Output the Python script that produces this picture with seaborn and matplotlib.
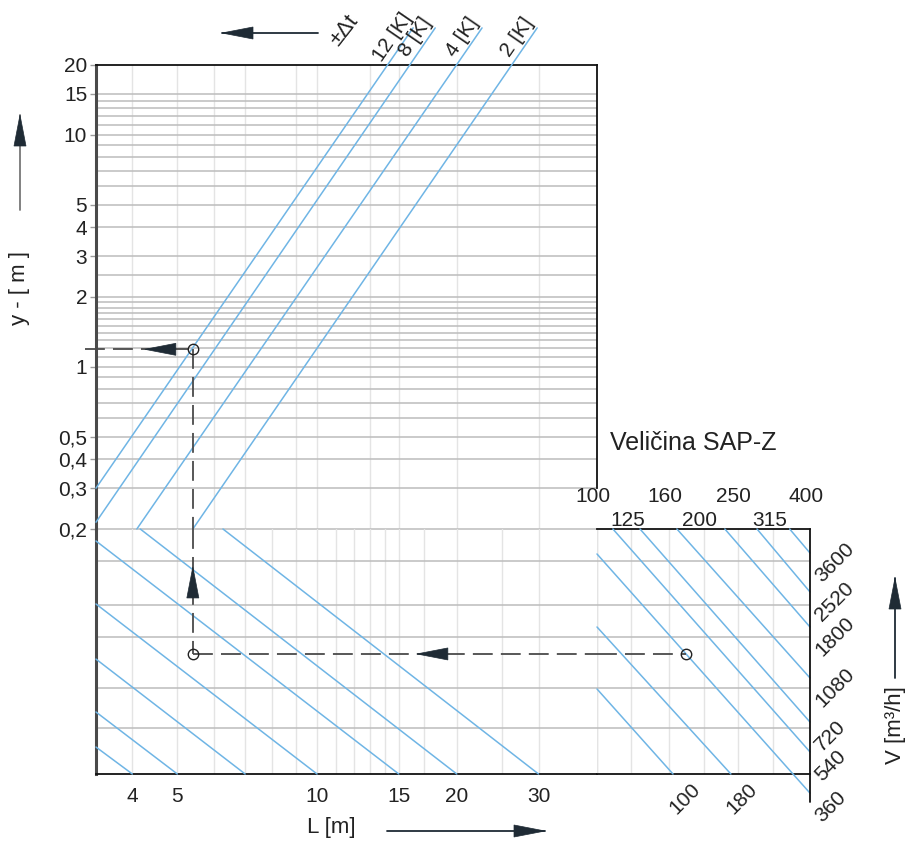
import matplotlib
matplotlib.use("Agg")
import matplotlib.pyplot as plt
from matplotlib.patches import Polygon
from matplotlib.lines import Line2D
from matplotlib.transforms import IdentityTransform
from matplotlib.ticker import FixedLocator, NullLocator
import pandas as pd
import seaborn as sns

# ---------------- data ----------------
# upper nomogram: +-dt lines (L [m] -> y [m])
dt_labels = ["12 [K]", "8 [K]", "4 [K]", "2 [K]"]
dt_L_start = [3.34, 3.34, 4.09, 5.40]
dt_y_start = [0.30, 0.214, 0.20, 0.20]
dt_L_end = [16.1, 17.97, 22.67, 29.8]
dt_y_end = [28.9, 28.9, 28.9, 28.9]

y_ticks = [0.2, 0.3, 0.4, 0.5, 1, 2, 3, 4, 5, 10, 15, 20]
y_tick_labels = ["0,2", "0,3", "0,4", "0,5", "1", "2", "3", "4", "5", "10", "15", "20"]
y_grid = [0.3, 0.4, 0.5, 0.6, 0.7, 0.8, 0.9, 1.0, 1.1, 1.2, 1.3, 1.4, 1.5, 1.6,
          1.7, 1.8, 1.9, 2.0, 2.5, 3, 4, 5, 6, 7, 8, 9, 10, 11, 12, 13, 14, 15]

L_ticks = [4, 5, 10, 15, 20, 30]
L_tick_labels = ["4", "5", "10", "15", "20", "30"]
L_grid_top = [4, 5, 6, 7, 9, 10, 13, 15, 20, 30]
L_grid_bottom = [4, 5, 6, 7, 8, 9, 10, 11, 12, 13, 14, 15, 17, 20, 25, 30]

# lower-left nomogram: L lines (L [m] vs relative scale q)
bl_names = ["l4", "l5", "l7", "l10", "l15", "l20", "l30"]
bl_L_start = [3.34, 3.34, 3.34, 3.34, 3.34, 4.16, 6.27]
bl_q_start = [0.110, 0.253, 0.469, 0.694, 0.951, 1.0, 1.0]
bl_L_end = [4, 5, 7, 10, 15, 20, 30]
bl_q_end = [0, 0, 0, 0, 0, 0, 0]
q_grid = [0.188, 0.351, 0.559, 0.690, 0.869]

# lower-right: SAP-Z sizes and flow lines V [m3/h]
sizes = [100, 125, 160, 200, 250, 315, 400]
size_labels = ["100", "125", "160", "200", "250", "315", "400"]
flow_labels = ["100", "180", "360", "540", "720", "1080", "1800", "2520", "3600"]
br_D_start = [100, 100, 100, 110.9, 132.3, 168.2, 229.8, 283.3, 350.4]
br_q_start = [0.347, 0.600, 0.898, 1, 1, 1, 1, 1, 1]
br_D_end = [164, 239, 400, 400, 400, 400, 400, 400, 400]
br_q_end = [0, 0, -0.078, 0.090, 0.212, 0.392, 0.600, 0.743, 0.902]

# worked example
ex_L, ex_y, ex_q, ex_D = 5.40, 1.19, 0.49, 178

# ---------------- style ----------------
sns.set_theme(style="white")
plt.rcParams["font.family"] = ["Liberation Sans", "DejaVu Sans"]
BLUE = "#6fb5e5"
HGRID = "#bcbcbc"
VGRID = "#e4e4e4"
DARK = "#1f2b35"
DASH = "#4a4a4a"
TXT = "#222222"

W, H = 907, 841
fig = plt.figure(figsize=(W / 100, H / 100), dpi=100)
fig.patch.set_facecolor("white")


def rect(x0, y0, x1, y1):
    return [x0 / W, 1 - y1 / H, (x1 - x0) / W, (y1 - y0) / H]


ax_top = fig.add_axes(rect(96, 65, 597, 529))
ax_bl = fig.add_axes(rect(96, 529, 597, 774))
ax_br = fig.add_axes(rect(597, 529, 810, 774))
for a in (ax_top, ax_bl, ax_br):
    a.set_facecolor("none")
    a.set_xscale("log")
ax_top.set_yscale("log")


def seg_frame(names, x0, y0, x1, y1):
    rows = []
    for n, a, b, c, d in zip(names, x0, y0, x1, y1):
        rows.append(dict(line=n, x=a, y=b))
        rows.append(dict(line=n, x=c, y=d))
    return pd.DataFrame(rows)


# grids
for v in y_grid:
    ax_top.axhline(v, color=HGRID, lw=1.1, zorder=1)
for v in L_grid_top:
    ax_top.axvline(v, color=VGRID, lw=1.0, zorder=0.5)
for v in q_grid:
    ax_bl.axhline(v, color=HGRID, lw=1.1, zorder=1)
    ax_br.axhline(v, color=HGRID, lw=1.1, zorder=1)
for v in L_grid_bottom:
    ax_bl.axvline(v, color=VGRID, lw=1.0, zorder=0.5)
for v in sizes[:-1]:
    ax_br.axvline(v, color=VGRID, lw=1.0, zorder=0.5)

# blue lines via seaborn
sns.lineplot(data=seg_frame(dt_labels, dt_L_start, dt_y_start, dt_L_end, dt_y_end),
             x="x", y="y", units="line", estimator=None, sort=False, color=BLUE,
             lw=1.1, ax=ax_top, legend=False, clip_on=False, zorder=3)
sns.lineplot(data=seg_frame(bl_names, bl_L_start, bl_q_start, bl_L_end, bl_q_end),
             x="x", y="y", units="line", estimator=None, sort=False, color=BLUE,
             lw=1.1, ax=ax_bl, legend=False, clip_on=False, zorder=3)
sns.lineplot(data=seg_frame(flow_labels, br_D_start, br_q_start, br_D_end, br_q_end),
             x="x", y="y", units="line", estimator=None, sort=False, color=BLUE,
             lw=1.1, ax=ax_br, legend=False, clip_on=False, zorder=3)

# limits
ax_top.set_xlim(3.34, 40.1)
ax_top.set_ylim(0.2, 20)
ax_bl.set_xlim(3.34, 40.1)
ax_bl.set_ylim(0, 1)
ax_br.set_xlim(100, 400)
ax_br.set_ylim(0, 1)
for a in (ax_top, ax_bl, ax_br):
    a.set_xlabel("")
    a.set_ylabel("")

# ticks
ax_top.yaxis.set_major_locator(FixedLocator(y_ticks))
ax_top.set_yticklabels(y_tick_labels)
ax_top.yaxis.set_minor_locator(NullLocator())
ax_top.tick_params(axis="y", which="major", left=True, length=6 * 0.72, width=1.0,
                   color="#9a9a9a", pad=2, labelsize=15, labelcolor=TXT)
ax_top.xaxis.set_major_locator(NullLocator())
ax_top.xaxis.set_minor_locator(NullLocator())

ax_bl.xaxis.set_major_locator(FixedLocator(L_ticks))
ax_bl.set_xticklabels(L_tick_labels)
ax_bl.xaxis.set_minor_locator(NullLocator())
ax_bl.tick_params(axis="x", which="major", bottom=True, length=0, pad=9,
                  labelsize=15, labelcolor=TXT)
ax_bl.yaxis.set_major_locator(NullLocator())
ax_br.xaxis.set_major_locator(NullLocator())
ax_br.xaxis.set_minor_locator(NullLocator())
ax_br.yaxis.set_major_locator(NullLocator())

# spines
ax_top.spines["left"].set(color="#4a4a4a", lw=2.2)
ax_top.spines["top"].set(color="#111111", lw=1.3)
ax_top.spines["right"].set(color="#111111", lw=1.3)
ax_top.spines["right"].set_bounds(0.3, 20)
ax_top.spines["bottom"].set(color=HGRID, lw=1.1)
ax_bl.spines["left"].set(color="#4a4a4a", lw=2.2)
ax_bl.spines["bottom"].set(color="#111111", lw=1.3)
ax_bl.spines["top"].set_visible(False)
ax_bl.spines["right"].set_visible(False)
ax_br.spines["left"].set_visible(False)
ax_br.spines["top"].set(color="#111111", lw=1.3)
ax_br.spines["bottom"].set(color="#111111", lw=1.3)
ax_br.spines["right"].set_visible(False)
ax_br.plot([400, 400], [-0.114, 1.0], color="#111111", lw=1.3, clip_on=False, zorder=4)
ax_br.axvline(100, color=VGRID, lw=1.0, zorder=0.5)

# worked example (dashed path, circles)
dash_kw = dict(color=DASH, lw=1.3, dashes=(11, 4.5), clip_on=False, zorder=5)
ax_top.plot([3.16, ex_L], [ex_y, ex_y], **dash_kw)
ax_top.plot([ex_L, ex_L], [ex_y, 0.2], **dash_kw)
ax_bl.plot([ex_L, ex_L], [1.0, ex_q], **dash_kw)
ax_bl.plot([ex_L, 40.1], [ex_q, ex_q], **dash_kw)
ax_br.plot([100, ex_D], [ex_q, ex_q], **dash_kw)
mk = dict(marker="o", ms=7.5, mfc="none", mec="#222222", mew=1.0, zorder=6, clip_on=False, ls="none")
ax_top.plot([ex_L], [ex_y], **mk)
ax_bl.plot([ex_L], [ex_q], **mk)
ax_br.plot([ex_D], [ex_q], **mk)


def head_disp(tx, ty, d, length=31, width=12, color=DARK):
    dx, dy = d
    bx, by = tx - dx * length, ty - dy * length
    px, py = -dy, dx
    pts = [(tx, ty), (bx + px * width / 2, by + py * width / 2),
           (bx - px * width / 2, by - py * width / 2)]
    fig.add_artist(Polygon(pts, closed=True, transform=IdentityTransform(),
                           facecolor=color, edgecolor=color, lw=0.5, zorder=10))


def head_data(ax, x, y, d, offset_px):
    tx, ty = ax.transData.transform((x, y))
    head_disp(tx + d[0] * offset_px, ty + d[1] * offset_px, d)


head_data(ax_top, ex_L, ex_y, (-1, 0), 48)
head_data(ax_bl, ex_L, ex_q, (0, 1), 87)
head_data(ax_bl, ex_L, ex_q, (-1, 0), -224)


def fig_arrow(tail, tip, shaft=DARK):
    (x0, y0), (x1, y1) = tail, tip
    fig.add_artist(Line2D([x0, x1], [H - y0, H - y1], transform=IdentityTransform(),
                          color=shaft, lw=1.3, zorder=9))
    dx, dy = x1 - x0, -(y1 - y0)
    n = (dx * dx + dy * dy) ** 0.5
    head_disp(x1, H - y1, (dx / n, dy / n))


fig_arrow((318, 33), (222, 33))
fig_arrow((20, 210), (20, 115), shaft="#777777")
fig_arrow((387, 831), (545, 831))
fig_arrow((895, 678), (895, 578))

# texts
def ftext(x, y, s, **kw):
    fig.text(x / W, 1 - y / H, s, ha="center", va="center", color=TXT, **kw)


ftext(20, 288, "y - [ m ]", fontsize=16, rotation=90)
ftext(331, 828, "L [m]", fontsize=16)
ftext(895, 725, "V [m³/h]", fontsize=16, rotation=90)
ftext(693, 443, "Veličina SAP-Z", fontsize=18)
ftext(344, 31, "±Δt", fontsize=16, rotation=52)

for lbl, L, yv in zip(dt_labels, dt_L_end, dt_y_end):
    ax_top.annotate(lbl, xy=(L, yv), xytext=(-20, -9), textcoords="offset pixels",
                    ha="center", va="center", rotation=55.5, rotation_mode="anchor",
                    fontsize=15, color=TXT, annotation_clip=False)

for i, (lbl, D) in enumerate(zip(size_labels, sizes)):
    yoff = 32 if i % 2 == 0 else 9
    ax_br.annotate(lbl, xy=(D, 1.0), xycoords=("data", "axes fraction"),
                   xytext=(-4, yoff), textcoords="offset pixels", ha="center",
                   va="center", fontsize=15, color=TXT, annotation_clip=False)

for lbl, D, q in zip(flow_labels, br_D_end, br_q_end):
    off = (12, -30) if D >= 400 else (3, -41)
    ax_br.annotate(lbl, xy=(D, q), xytext=off, textcoords="offset pixels",
                   ha="left", va="baseline", rotation=45, rotation_mode="anchor",
                   fontsize=15, color=TXT, annotation_clip=False)

fig.savefig("out.png", dpi=100)
